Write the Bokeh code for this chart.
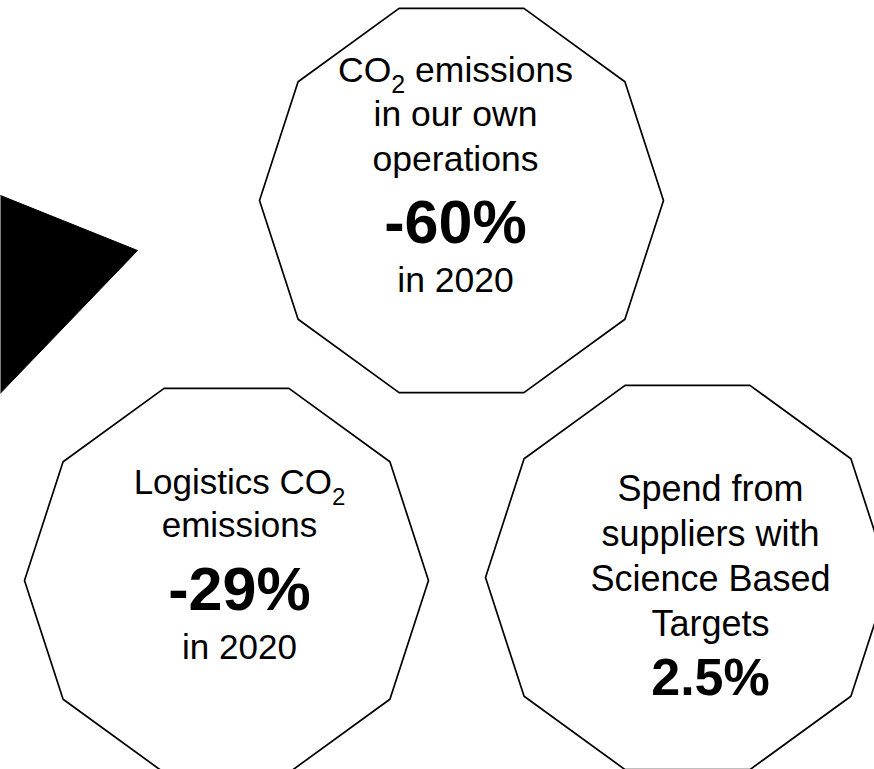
import numpy as np
from bokeh.plotting import figure
from bokeh.models import Range1d
from bokeh.core.properties import value
from bokeh.embed import file_html
from bokeh.resources import INLINE

# ---------------- data ----------------
box_names = ["own_operations", "logistics", "suppliers"]
box_cx = [461, 226, 687]
box_cy = [200, 580, 577]
box_radius = [202, 202, 202]
n_sides = 10

# text lines per box, as (segment, role) ; role: r = regular, sub = subscript, b = bold figure
own_operations_lines = [
    [("CO", "r"), ("2", "sub"), (" emissions", "r")],
    [("in our own", "r")],
    [("operations", "r")],
    [("-60%", "b")],
    [("in 2020", "r")],
]
logistics_lines = [
    [("Logistics CO", "r"), ("2", "sub")],
    [("emissions", "r")],
    [("-29%", "b")],
    [("in 2020", "r")],
]
suppliers_lines = [
    [("Spend from", "r")],
    [("suppliers with", "r")],
    [("Science Based", "r")],
    [("Targets", "r")],
    [("2.5%", "b")],
]
box_lines = [own_operations_lines, logistics_lines, suppliers_lines]

# decorative black pointer on the left (tip and two edge points)
pointer_x = [-10, 137, -10]
pointer_y = [191, 250, 403]

# ---------------- layout / style ----------------
W, H = 874, 769
text_cx = [455, 239, 710]
first_baseline = [83, 495, 502]
reg_size = [35.5, 35, 36]
bold_size = [61, 61, 52]
reg_gap = [44.5, 43, 45]
bold_gap = [73, 74, 60]
after_bold_gap = [48, 48, 48]
BASELINE_FIX = 0.39   # renderer places alphabetic text lower by ~0.39 em
FONT = "Liberation Sans"

# Arial / Liberation Sans advance widths (per 1000 em)
ADV = {' ': 278, 'C': 722, 'O': 778, 'L': 556, 'e': 556, 'm': 833, 'i': 222,
       's': 500, 'n': 556, 'o': 556, 'g': 556, 't': 278, 'c': 500, '2': 556}


def text_width(t, size):
    return sum(ADV.get(ch, 556) for ch in t) * size / 1000.0


p = figure(width=W, height=H, x_range=Range1d(0, W), y_range=Range1d(H, 0),
           output_backend="svg", toolbar_location=None, min_border=0,
           x_axis_type=None, y_axis_type=None)
p.grid.visible = False
p.outline_line_color = None
p.background_fill_color = "white"
p.border_fill_color = "white"

# pointer
p.patch(pointer_x, pointer_y, fill_color="black", line_color="black", line_width=1)

# decagons
ang = np.deg2rad(np.arange(n_sides) * 360.0 / n_sides)
xs = [list(cx + r * np.cos(ang)) for cx, r in zip(box_cx, box_radius)]
ys = [list(cy + r * np.sin(ang)) for cy, r in zip(box_cy, box_radius)]
p.patches(xs, ys, fill_color="white", line_color="black", line_width=1.7)


def put(x, y, t, size, bold=False, align="left"):
    p.text(x=[x], y=[y - BASELINE_FIX * size], text=[t], text_align=align,
           text_baseline="alphabetic", text_font=value(FONT),
           text_font_size=f"{size}px",
           text_font_style="bold" if bold else "normal",
           text_color="black")


# texts
for b, lines in enumerate(box_lines):
    y = first_baseline[b]
    prev_bold = False
    for i, line in enumerate(lines):
        is_bold = any(role == "b" for _, role in line)
        if i > 0:
            if is_bold:
                y += bold_gap[b]
            elif prev_bold:
                y += after_bold_gap[b]
            else:
                y += reg_gap[b]
        rs = reg_size[b]
        ss = round(rs * 0.7)
        if len(line) == 1:
            seg, role = line[0]
            size = bold_size[b] if role == "b" else rs
            put(text_cx[b], y, seg, size, bold=(role == "b"), align="center")
        else:
            widths = [text_width(s, ss if r == "sub" else rs) for s, r in line]
            x0 = text_cx[b] - sum(widths) / 2.0
            for (seg, role), w in zip(line, widths):
                size = ss if role == "sub" else rs
                dy = 10 if role == "sub" else 0
                lead = len(seg) - len(seg.lstrip(" "))
                xs0 = x0 + text_width(" " * lead, size)
                put(xs0, y + dy, seg.lstrip(" "), size)
                x0 += w
        prev_bold = is_bold

open("out.html", "w").write(file_html(p, INLINE))
